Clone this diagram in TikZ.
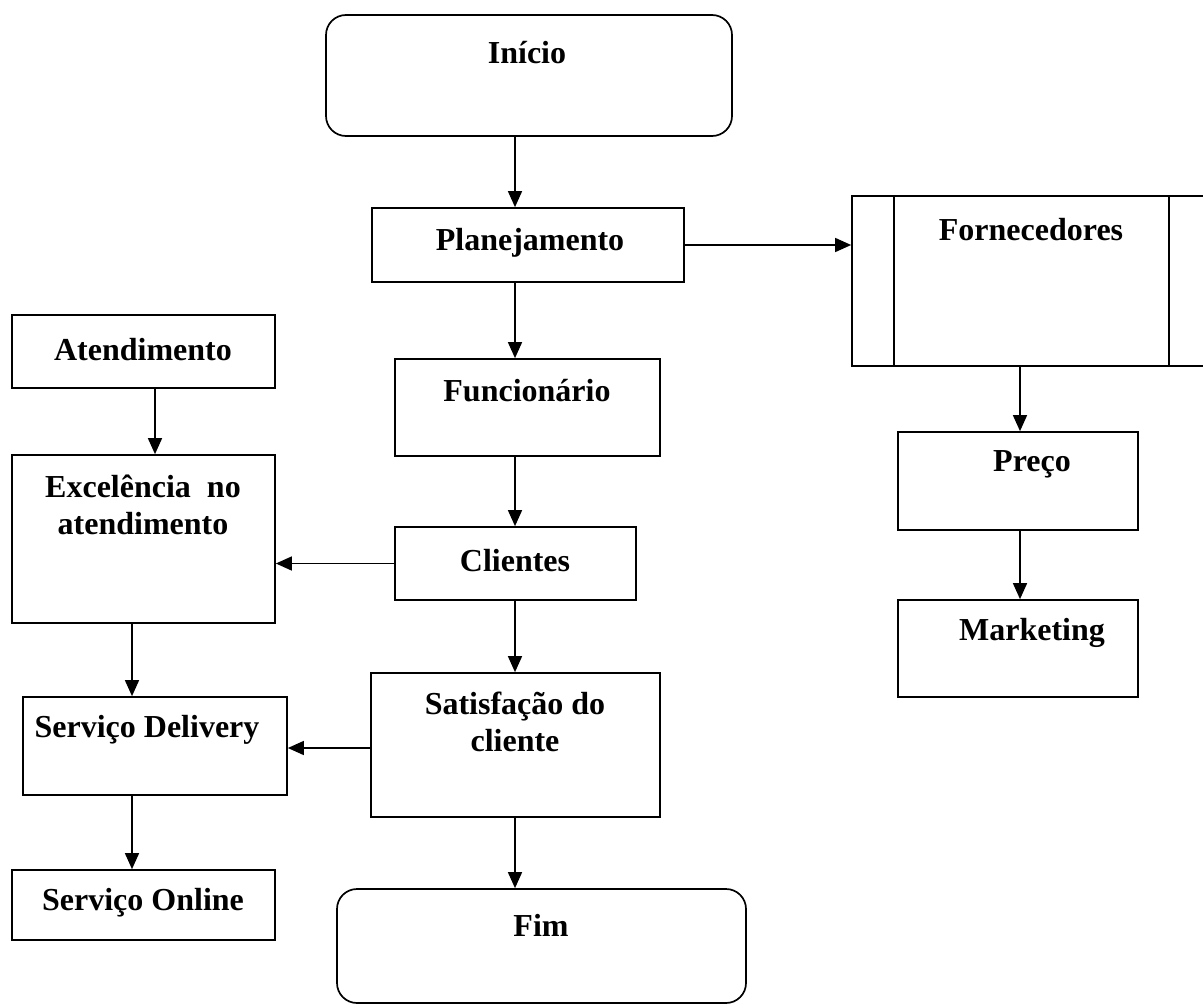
\documentclass[tikz,border=0pt]{standalone}
\usepackage{fontspec}
\setmainfont{Liberation Serif}
\usetikzlibrary{arrows.meta,fit}
\begin{document}
\begin{tikzpicture}[x=0.5pt,y=-0.5pt,
  box/.style={draw, line width=0.85pt, rectangle, inner sep=0pt},
  rbox/.style={box, rounded corners=10pt},
  txt/.style={font=\fontsize{16}{18.5}\selectfont\bfseries, inner sep=0pt, align=center},
  arr/.style={-{Triangle[length=8pt,width=7pt]}, line width=0.75pt},
  ln/.style={line width=0.85pt}]
\useasboundingbox (0,0) rectangle (1203,1006);
\clip (0,0) rectangle (1203,1006);
% boxes
\node[rbox, fit={(326,15) (732,136)}] (inicio) {};
\node[box, fit={(372,208) (684,282)}] (plan) {};
\node[box, fit={(852,196) (1240,366)}] (forn) {};
\draw[ln] ([xshift=21.5pt]forn.north west) -- ([xshift=21.5pt]forn.south west);
\draw[ln] ([xshift=-36pt]forn.north east) -- ([xshift=-36pt]forn.south east);
\node[box, fit={(12,315) (275,388)}] (aten) {};
\node[box, fit={(395,359) (660,456)}] (func) {};
\node[box, fit={(12,455) (275,623)}] (exc) {};
\node[box, fit={(395,527) (636,600)}] (cli) {};
\node[box, fit={(898,432) (1138,530)}] (preco) {};
\node[box, fit={(898,600) (1138,697)}] (mkt) {};
\node[box, fit={(23,697) (287,795)}] (deliv) {};
\node[box, fit={(371,673) (660,817)}] (sat) {};
\node[box, fit={(12,870) (275,940)}] (online) {};
\node[rbox, fit={(337,889) (746,1003)}] (fim) {};
% texts
\node[txt] (t-inicio) at (527,53) {Início};
\node[txt] (t-plan) at (530,243) {Planejamento};
\node[txt] (t-forn) at (1031,230) {Fornecedores};
\node[txt] (t-aten) at (143,350) {Atendimento};
\node[txt] (t-func) at (527,391) {Funcionário};
\node[txt] (t-exc) at (143,505) {Excelência\enspace no\\atendimento};
\node[txt] (t-cli) at (515,561) {Clientes};
\node[txt] (t-preco) at (1032,464) {Preço};
\node[txt] (t-mkt) at (1032,633) {Marketing};
\node[txt] (t-deliv) at (147,730) {Serviço Delivery};
\node[txt] (t-sat) at (515,722) {Satisfação do\\cliente};
\node[txt] (t-online) at (143,903) {Serviço Online};
\node[txt] (t-fim) at (541,925) {Fim};
% connectors
\coordinate (cx) at (515,0);
\draw[arr] (inicio.south -| cx) -- (plan.north -| cx);
\draw[arr] (plan.south -| cx) -- (func.north -| cx);
\draw[arr] (func.south -| cx) -- (cli.north -| cx);
\draw[arr] (cli.south -| cx) -- (sat.north -| cx);
\draw[arr] (sat.south -| cx) -- (fim.north -| cx);
\draw[arr] (plan.east) -- (plan.east -| forn.west);
\coordinate (fx) at (1020,0);
\draw[arr] (forn.south -| fx) -- (preco.north -| fx);
\draw[arr] (preco.south -| fx) -- (mkt.north -| fx);
\coordinate (ax) at (155,0);
\draw[arr] (aten.south -| ax) -- (exc.north -| ax);
\draw[arr] (cli.west) -- (cli.west -| exc.east);
\coordinate (dx) at (132,0);
\draw[arr] (exc.south -| dx) -- (deliv.north -| dx);
\draw[arr] (deliv.south -| dx) -- (online.north -| dx);
\coordinate (sy) at (0,748);
\draw[arr] (sat.west |- sy) -- (deliv.east |- sy);
\end{tikzpicture}
\end{document}
